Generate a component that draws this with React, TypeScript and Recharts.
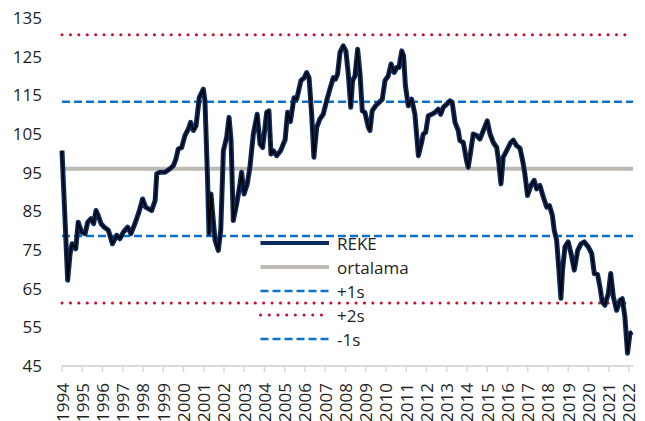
import { LineChart, Line, XAxis, YAxis, ReferenceLine, Legend } from "recharts";

// monthly-ish readings, x as fractional year
const dates = [
  1994.0, 1994.28, 1994.4, 1994.5, 1994.68, 1994.8, 1994.97, 1995.14, 1995.27, 1995.43, 1995.56, 1995.68,
  1995.79, 1995.93, 1996.09, 1996.29, 1996.49, 1996.7, 1996.86, 1997.03, 1997.24, 1997.4, 1997.6, 1997.8,
  1997.98, 1998.13, 1998.43, 1998.6, 1998.68, 1998.84, 1999.09, 1999.33, 1999.5, 1999.62, 1999.74, 1999.91,
  2000.07, 2000.24, 2000.35, 2000.49, 2000.62, 2000.78, 2000.98, 2001.06, 2001.18, 2001.26, 2001.36, 2001.44,
  2001.56, 2001.72, 2001.84, 2001.97, 2002.13, 2002.25, 2002.35, 2002.46, 2002.63, 2002.79, 2002.87, 2002.99,
  2003.15, 2003.28, 2003.45, 2003.64, 2003.78, 2003.91, 2004.11, 2004.22, 2004.32, 2004.43, 2004.6, 2004.8,
  2004.93, 2005.02, 2005.14, 2005.28, 2005.46, 2005.59, 2005.8, 2005.97, 2006.08, 2006.2, 2006.33, 2006.44,
  2006.58, 2006.74, 2006.9, 2007.07, 2007.23, 2007.4, 2007.51, 2007.61, 2007.73, 2007.89, 2008.02, 2008.14,
  2008.26, 2008.35, 2008.47, 2008.6, 2008.72, 2008.83, 2008.96, 2009.13, 2009.21, 2009.32, 2009.49, 2009.67,
  2009.82, 2009.95, 2010.11, 2010.25, 2010.41, 2010.53, 2010.64, 2010.78, 2010.87, 2010.96, 2011.1, 2011.27,
  2011.43, 2011.6, 2011.76, 2011.84, 2011.96, 2012.09, 2012.26, 2012.42, 2012.58, 2012.7, 2012.83, 2013.0,
  2013.16, 2013.27, 2013.41, 2013.57, 2013.65, 2013.82, 2013.98, 2014.06, 2014.18, 2014.31, 2014.48, 2014.64,
  2014.81, 2015.0, 2015.14, 2015.3, 2015.47, 2015.58, 2015.68, 2015.79, 2015.96, 2016.16, 2016.29, 2016.45,
  2016.62, 2016.78, 2016.86, 2016.99, 2017.16, 2017.32, 2017.44, 2017.6, 2017.77, 2017.94, 2018.07, 2018.22,
  2018.31, 2018.43, 2018.54, 2018.64, 2018.72, 2018.84, 2019.0, 2019.14, 2019.3, 2019.47, 2019.63, 2019.79,
  2019.99, 2020.16, 2020.29, 2020.45, 2020.57, 2020.68, 2020.81, 2020.98, 2021.1, 2021.23, 2021.39, 2021.56,
  2021.67, 2021.8, 2021.93, 2022.05, 2022.16,
];

const reke = [
  100.7, 67.2, 74.1, 76.6, 75.3, 82.2, 79.6, 79.2, 82.2, 83.1, 81.8, 85.2,
  83.9, 81.8, 80.9, 80.1, 76.6, 78.8, 77.9, 79.6, 80.9, 79.2, 81.8, 84.8,
  88.2, 86.1, 85.2, 87.8, 94.7, 95.1, 95.1, 96.0, 96.8, 98.4, 101.1, 101.5,
  104.6, 106.3, 108.0, 105.9, 107.1, 114.4, 116.6, 113.6, 94.7, 79.2, 89.5, 84.4,
  77.5, 74.9, 80.1, 100.7, 104.1, 109.3, 103.3, 82.6, 87.0, 92.1, 95.1, 89.5,
  92.1, 96.4, 105.0, 110.1, 102.4, 101.5, 110.6, 111.0, 99.8, 100.7, 99.4, 100.7,
  102.4, 103.5, 110.6, 108.2, 114.4, 114.0, 118.8, 119.6, 120.9, 119.6, 110.1, 99.0,
  106.7, 108.9, 110.1, 113.6, 116.6, 119.6, 119.2, 120.5, 126.1, 127.8, 126.5, 120.5,
  111.9, 118.8, 120.0, 126.9, 120.5, 111.0, 110.6, 106.7, 105.9, 111.0, 112.3, 113.2,
  114.0, 118.8, 120.0, 123.1, 120.9, 122.2, 122.2, 126.5, 125.2, 117.5, 112.3, 114.0,
  110.1, 99.4, 102.8, 105.0, 105.4, 109.7, 110.1, 110.6, 111.4, 110.1, 111.9, 112.7,
  113.6, 113.2, 108.0, 105.9, 103.3, 102.8, 98.1, 96.4, 100.3, 105.0, 104.6, 103.7,
  105.9, 108.4, 105.0, 102.8, 101.5, 97.2, 92.1, 99.0, 100.7, 102.8, 103.4, 102.0,
  101.3, 97.3, 94.7, 89.1, 91.7, 93.0, 90.8, 91.7, 88.7, 86.1, 86.5, 83.9,
  80.1, 77.5, 69.8, 62.5, 69.8, 75.8, 77.1, 74.1, 69.8, 74.9, 76.6, 77.1,
  75.8, 74.1, 68.9, 68.7, 65.4, 61.6, 60.7, 63.7, 68.9, 62.9, 59.4, 62.0,
  62.4, 57.7, 48.3, 53.4, 53.8,
];

const ortalama = 96.0;
const plus1s = 113.35;
const plus2s = 130.7;
const minus1s = 78.65;
const minus2s = 61.3;

const yearTicks = Array.from({ length: 29 }, (_, i) => 1994 + i);
const valueTicks = [45, 55, 65, 75, 85, 95, 105, 115, 125, 135];

const data = dates.map((t, i) => ({ t, reke: reke[i] }));

const FONT = "'Open Sans', sans-serif";
const TEXT = "#1f1f1f";
const NAVY = "#0c2a5c";
const GREY = "#bfbab3";
const BLUE = "#0a70c8";
const RED = "#c8102e";

function YearTick({ x, y, payload }: any) {
  return (
    <text
      x={x}
      y={y}
      transform={`rotate(-90, ${x}, ${y})`}
      textAnchor="end"
      dominantBaseline="central"
      fill={TEXT}
      fontSize={17}
      fontFamily={FONT}
    >
      {payload.value}
    </text>
  );
}

const legendRows = [
  { label: "REKE", stroke: NAVY, width: 4, dash: undefined, cap: "butt" },
  { label: "ortalama", stroke: GREY, width: 4, dash: undefined, cap: "butt" },
  { label: "+1s", stroke: BLUE, width: 2.5, dash: "8 4", cap: "butt" },
  { label: "+2s", stroke: RED, width: 3, dash: "0.1 8.6", cap: "round" },
  { label: "-1s", stroke: BLUE, width: 2.5, dash: "8 4", cap: "butt" },
];

function ChartLegend() {
  return (
    <div style={{ fontFamily: FONT, fontSize: 17, color: TEXT }}>
      {legendRows.map((r) => (
        <div key={r.label} style={{ display: "flex", alignItems: "center", height: 24 }}>
          <svg width={72} height={10} style={{ marginRight: 6 }}>
            <line
              x1={1.5}
              y1={5}
              x2={70}
              y2={5}
              stroke={r.stroke}
              strokeWidth={r.width}
              strokeDasharray={r.dash}
              strokeLinecap={r.cap as any}
            />
          </svg>
          <span>{r.label}</span>
        </div>
      ))}
    </div>
  );
}

export default function App() {
  return (
    <div style={{ position: "absolute", left: 0, top: 0, background: "#fff" }}>
      <LineChart width={645} height={421} data={data} margin={{ top: 18, right: 12, bottom: 0, left: 0 }}>
        <XAxis
          dataKey="t"
          type="number"
          domain={[1994, 2022.2]}
          ticks={yearTicks}
          interval={0}
          height={55}
          tick={<YearTick />}
          tickSize={6}
          tickMargin={11}
          axisLine={{ stroke: "#d9d9d9", strokeWidth: 2 }}
          tickLine={{ stroke: "#d9d9d9", strokeWidth: 1.5 }}
        />
        <YAxis
          type="number"
          domain={[45, 135]}
          ticks={valueTicks}
          interval={0}
          width={62}
          axisLine={false}
          tickLine={false}
          tickSize={0}
          tickMargin={20}
          tick={{ fill: TEXT, fontSize: 17, fontFamily: FONT }}
        />
        <ReferenceLine y={ortalama} stroke={GREY} strokeWidth={4} />
        <ReferenceLine y={plus1s} stroke={BLUE} strokeWidth={2.5} strokeDasharray="8 4" />
        <ReferenceLine y={minus1s} stroke={BLUE} strokeWidth={2.5} strokeDasharray="8 4" />
        <ReferenceLine y={plus2s} stroke={RED} strokeWidth={3} strokeDasharray="0.1 8.3" strokeLinecap="round" />
        <ReferenceLine y={minus2s} stroke={RED} strokeWidth={3} strokeDasharray="0.1 8.3" strokeLinecap="round" />
        <Line
          dataKey="reke"
          type="linear"
          stroke={NAVY}
          strokeWidth={5}
          dot={false}
          strokeLinejoin="round"
          isAnimationActive={false}
          legendType="none"
        />
        <Line
          dataKey="reke"
          type="linear"
          stroke="#000"
          strokeWidth={1.6}
          dot={false}
          strokeLinejoin="round"
          isAnimationActive={false}
          legendType="none"
        />
        <Legend
          layout="vertical"
          align="center"
          verticalAlign="middle"
          content={<ChartLegend />}
          wrapperStyle={{ left: 259, top: 231, width: 160 }}
        />
      </LineChart>
    </div>
  );
}
